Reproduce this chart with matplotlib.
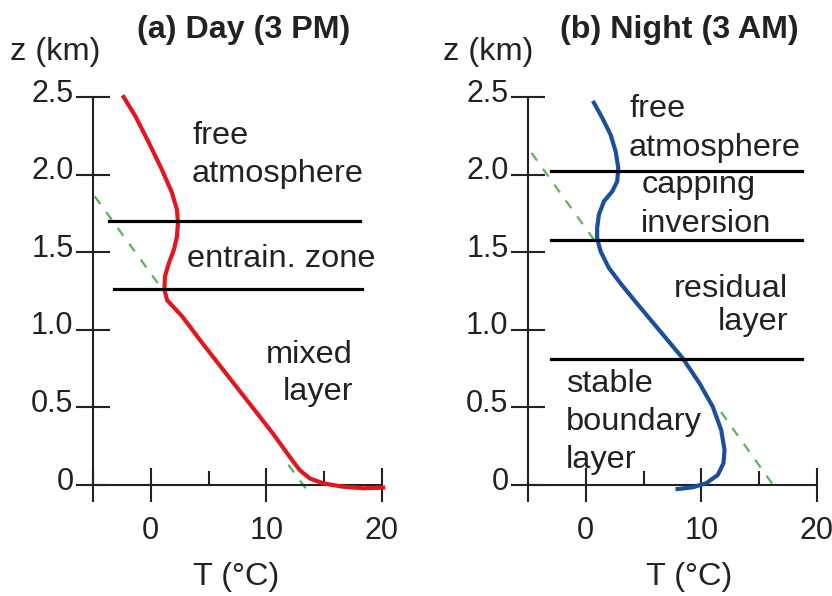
import numpy as np
import matplotlib.pyplot as plt
import matplotlib.transforms as mtransforms

plt.rcParams['font.family'] = ['Liberation Sans', 'DejaVu Sans']

# day profile (3 PM): temperature (degC) vs height (km)
day_T = [-2.35, -1.33, -0.17, 0.96, 1.83, 2.26, 2.35, 2.26, 2.0, 1.57, 1.22,
         1.18, 1.42, 2.72, 4.46, 6.49, 8.52, 10.55, 12.0, 12.87, 13.74, 14.9,
         16.6, 18.4, 20.1]
day_z = [2.50, 2.376, 2.206, 2.032, 1.884, 1.774, 1.690, 1.600, 1.516, 1.432,
         1.342, 1.258, 1.190, 1.086, 0.914, 0.720, 0.527, 0.333, 0.183, 0.097,
         0.043, 0.011, -0.011, -0.021, -0.017]

# night profile (3 AM)
night_T = [0.70, 1.42, 2.14, 2.58, 2.81, 2.72, 2.29, 1.57, 1.13, 0.98, 0.98,
           1.28, 2.0, 3.1, 4.2, 5.6, 8.38, 9.83, 10.98, 11.71, 12.0, 11.91,
           11.42, 10.41, 9.24, 7.94]
night_z = [2.463, 2.366, 2.258, 2.15, 2.043, 1.957, 1.892, 1.828, 1.742, 1.656,
           1.591, 1.505, 1.398, 1.29, 1.19, 1.065, 0.817, 0.656, 0.505, 0.355,
           0.226, 0.14, 0.065, 0.011, -0.015, -0.026]

# dry adiabats (dashed green), visible pieces only
day_adiabat_T = [[-4.85, 1.0], [11.9, 13.48]]
day_adiabat_z = [[1.86, 1.26], [0.13, -0.03]]
night_adiabat_T = [[-4.7, 1.0], [11.7, 16.3]]
night_adiabat_z = [[2.14, 1.55], [0.47, -0.01]]

# layer boundaries (km)
day_bounds = [1.70, 1.26]
night_bounds = [2.02, 1.58, 0.81]

yticks = [0, 0.5, 1.0, 1.5, 2.0, 2.5]
ytick_labels = ['0', '0.5', '1.0', '1.5', '2.0', '2.5']
xticks = [-5, 0, 10, 20]
xtick_labels = ['', '0', '10', '20']

txt = '#222222'
red = '#e3161e'
blue = '#1b4f9e'
green = '#55b560'
fs = 23.4

fig = plt.figure(figsize=(8.32, 5.96), dpi=100)
ax1 = fig.add_axes([93 / 832, 111 / 596, 289 / 832, 388 / 596])
ax2 = fig.add_axes([528 / 832, 111 / 596, 289 / 832, 388 / 596])


def setup(ax, title):
    ax.set_xlim(-5, 20)
    ax.set_ylim(0, 2.5)
    for s in ['top', 'right']:
        ax.spines[s].set_visible(False)
    for s in ['left', 'bottom']:
        ax.spines[s].set_linewidth(1.5)
        ax.spines[s].set_color(txt)
    ax.set_yticks(yticks)
    ax.set_yticklabels(ytick_labels)
    ax.set_xticks(xticks)
    ax.set_xticklabels(xtick_labels)
    ax.set_xticks([5, 15], minor=True)
    ax.tick_params(axis='both', which='major', direction='inout', length=24,
                   width=1.5, color=txt, labelsize=22, labelcolor=txt)
    ax.tick_params(axis='y', which='major', pad=2)
    ax.tick_params(axis='x', which='major', pad=10)
    ax.tick_params(axis='x', which='minor', direction='in', length=10,
                   width=1.5, color=txt)
    off = mtransforms.ScaledTranslation(0, 5 / 72, fig.dpi_scale_trans)
    for lab in ax.get_yticklabels():
        lab.set_transform(lab.get_transform() + off)
    ax.set_facecolor('none')
    ax.text(0.522, 1.172, title, transform=ax.transAxes, fontsize=23.2,
            fontweight='bold', color=txt, ha='center', va='center')


setup(ax1, '(a) Day (3 PM)')
setup(ax2, '(b) Night (3 AM)')

# day panel
for xs, zs in zip(day_adiabat_T, day_adiabat_z):
    ax1.plot(xs, zs, color=green, lw=1.6, dashes=(4.3, 4.5), clip_on=False,
             zorder=2)
ax1.plot(day_T, day_z, color=red, lw=3.0, clip_on=False, zorder=3,
         solid_joinstyle='round')
for zb, x0, x1 in zip(day_bounds, [-3.65, -3.2], [18.1, 18.3]):
    ax1.plot([x0, x1], [zb, zb], color='black', lw=2.3, zorder=4)

ax1.text(3.57, 2.20, 'free', fontsize=fs, color=txt)
ax1.text(3.57, 1.955, 'atmosphere', fontsize=fs, color=txt)
ax1.text(3.13, 1.406, 'entrain. zone', fontsize=fs, color=txt)
ax1.text(17.5, 0.787, 'mixed', fontsize=fs, color=txt, ha='right')
ax1.text(17.5, 0.548, 'layer', fontsize=fs, color=txt, ha='right')

# night panel
for xs, zs in zip(night_adiabat_T, night_adiabat_z):
    ax2.plot(xs, zs, color=green, lw=1.6, dashes=(4.3, 4.5), clip_on=False,
             zorder=2)
ax2.plot(night_T, night_z, color=blue, lw=3.0, clip_on=False, zorder=3,
         solid_joinstyle='round')
for zb in night_bounds:
    ax2.plot([-3.0, 18.7], [zb, zb], color='black', lw=2.3, zorder=4)

ax2.text(3.74, 2.37, 'free', fontsize=fs, color=txt)
ax2.text(3.74, 2.12, 'atmosphere', fontsize=fs, color=txt)
ax2.text(4.8, 1.88, 'capping', fontsize=fs, color=txt)
ax2.text(4.8, 1.63, 'inversion', fontsize=fs, color=txt)
ax2.text(17.5, 1.21, 'residual', fontsize=fs, color=txt, ha='right')
ax2.text(17.5, 1.0, 'layer', fontsize=fs, color=txt, ha='right')
ax2.text(-1.74, 0.60, 'stable', fontsize=fs, color=txt)
ax2.text(-1.74, 0.355, 'boundary', fontsize=fs, color=txt)
ax2.text(-1.74, 0.11, 'layer', fontsize=fs, color=txt)

# axis labels
ax1.text(-12.2, 2.79, 'z (km)', fontsize=fs, color=txt, va='center')
ax2.text(-12.35, 2.79, 'z (km)', fontsize=fs, color=txt, va='center')
ax1.text(7.4, -0.594, 'T (°C)', fontsize=fs, color=txt, ha='center', va='center')
ax2.text(8.96, -0.594, 'T (°C)', fontsize=fs, color=txt, ha='center', va='center')

fig.savefig('out.png', dpi=100)
